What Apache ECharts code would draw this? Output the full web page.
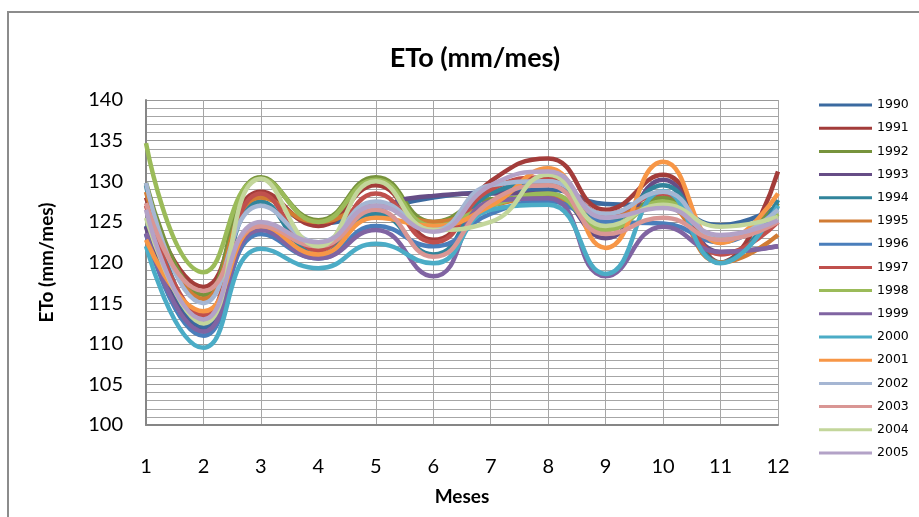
<!DOCTYPE html>
<html>
<head>
<meta charset="utf-8">
<script src="https://cdn.jsdelivr.net/npm/echarts@6/dist/echarts.min.js"></script>
<style>
  html, body { margin: 0; padding: 0; background: #ffffff; }
  #chart { width: 919px; height: 517px; }
</style>
</head>
<body>
<div id="chart"></div>
<script>
// Months on the category axis
const months = ['1', '2', '3', '4', '5', '6', '7', '8', '9', '10', '11', '12'];

// Monthly reference evapotranspiration (mm/mes), one array per year
const y1990 = [124.5, 112.0, 128.5, 124.8, 126.5, 128.0, 128.7, 129.0, 127.2, 127.0, 124.6, 127.0];
const y1991 = [128.0, 117.0, 128.7, 124.5, 129.5, 122.8, 130.0, 132.8, 126.5, 130.8, 120.0, 131.2];
const y1992 = [129.8, 116.0, 130.5, 125.2, 130.5, 125.0, 127.8, 128.0, 124.5, 128.0, 122.5, 127.3];
const y1993 = [124.4, 111.5, 124.5, 122.0, 126.5, 128.2, 128.5, 128.5, 123.0, 130.2, 121.3, 122.0];
const y1994 = [129.5, 113.0, 127.5, 121.0, 126.0, 121.0, 128.5, 129.8, 125.0, 129.5, 120.0, 127.7];
const y1995 = [128.7, 115.5, 128.0, 125.0, 127.0, 125.0, 127.0, 128.0, 126.0, 127.0, 120.0, 123.4];
const y1996 = [123.5, 111.0, 123.5, 120.5, 124.5, 122.0, 126.0, 127.5, 125.0, 124.8, 122.5, 126.9];
const y1997 = [127.0, 113.5, 128.5, 121.5, 128.5, 122.5, 129.0, 130.5, 126.0, 128.5, 121.0, 125.0];
const y1998 = [134.7, 118.8, 130.3, 125.0, 130.2, 124.5, 127.0, 128.5, 124.0, 127.5, 123.0, 126.0];
const y1999 = [123.6, 111.5, 124.0, 120.5, 124.0, 118.3, 127.5, 127.9, 118.3, 124.4, 121.3, 122.0];
const y2000 = [122.0, 109.5, 121.7, 119.3, 122.3, 119.9, 126.5, 127.1, 118.6, 128.8, 119.9, 127.0];
const y2001 = [122.8, 114.0, 124.5, 121.0, 125.5, 124.5, 127.0, 131.6, 121.8, 132.4, 122.4, 128.5];
const y2002 = [129.8, 115.0, 127.0, 122.5, 127.5, 124.0, 129.5, 130.0, 126.0, 128.7, 122.8, 126.5];
const y2003 = [127.3, 116.5, 124.5, 122.0, 126.5, 120.7, 127.5, 129.5, 123.5, 125.5, 122.8, 125.0];
const y2004 = [125.5, 112.5, 130.3, 122.0, 130.0, 124.0, 125.0, 130.8, 124.5, 127.1, 124.4, 125.6];
const y2005 = [126.5, 113.0, 125.0, 122.5, 127.0, 123.8, 129.5, 131.2, 125.5, 126.7, 123.4, 125.2];

const years = ['1990', '1991', '1992', '1993', '1994', '1995', '1996', '1997',
               '1998', '1999', '2000', '2001', '2002', '2003', '2004', '2005'];
const values = [y1990, y1991, y1992, y1993, y1994, y1995, y1996, y1997,
                y1998, y1999, y2000, y2001, y2002, y2003, y2004, y2005];

// Office-style palette: dark shades, base shades, light tints
const colors = ['#3b6aa0', '#a33c3a', '#77933c', '#664d86', '#31849b', '#d17c34',
                '#4a7ebb', '#c0504d', '#9bbb59', '#8064a2', '#4bacc6', '#f79646',
                '#a5b6d3', '#d99694', '#c3d69b', '#b3a2c7'];

const font = 'Lato, Carlito, "Liberation Sans", sans-serif';
const gridColor = '#a6a6a6';

const chart = echarts.init(document.getElementById('chart'), null, { renderer: 'canvas' });

chart.setOption({
  backgroundColor: '#ffffff',
  animation: false,
  color: colors,
  title: {
    text: 'ETo (mm/mes)',
    left: 470,
    top: 40,
    textAlign: 'center',
    textStyle: { fontFamily: font, fontSize: 27, fontWeight: 'bold', color: '#000' }
  },
  graphic: [{
    type: 'rect',
    shape: { x: 8, y: 12, width: 1000, height: 1000 },
    style: { fill: 'none', stroke: '#8c8c8c', lineWidth: 2 },
    silent: true,
    z: -1
  }],
  legend: {
    orient: 'vertical',
    left: 814,
    top: 93,
    icon: 'rect',
    itemWidth: 53,
    itemHeight: 3,
    itemGap: 9.2,
    textStyle: { fontFamily: '"DejaVu Sans", sans-serif', fontSize: 12.5, color: '#000', lineHeight: 14 },
    data: years
  },
  grid: { left: 146, right: 141, top: 100, bottom: 92, containLabel: false },
  xAxis: {
    type: 'category',
    data: months,
    boundaryGap: false,
    name: 'Meses',
    nameLocation: 'middle',
    nameGap: 62,
    nameTextStyle: { fontFamily: font, fontSize: 19, fontWeight: 'bold', color: '#000' },
    axisLine: { show: true, lineStyle: { color: '#868686', width: 2 } },
    axisTick: { show: false },
    axisLabel: { margin: 32, fontFamily: font, fontSize: 20, color: '#000' },
    splitLine: {
      show: true,
      interval: function (index) { return index !== 3; },
      lineStyle: { color: gridColor, width: 1 }
    }
  },
  yAxis: {
    type: 'value',
    min: 100,
    max: 140,
    interval: 5,
    name: 'ETo (mm/mes)',
    nameLocation: 'middle',
    nameGap: 90,
    nameTextStyle: { fontFamily: font, fontSize: 19, fontWeight: 'bold', color: '#000' },
    axisLine: { show: true, lineStyle: { color: '#868686', width: 2 } },
    axisTick: { show: false },
    axisLabel: { margin: 23, fontFamily: font, fontSize: 20, color: '#000' },
    splitLine: { show: true, lineStyle: { color: '#999999', width: 1 } },
    minorTick: { show: false, splitNumber: 5 },
    minorSplitLine: { show: true, lineStyle: { color: gridColor, width: 1 } }
  },
  series: years.map(function (yr, i) {
    return {
      name: yr,
      type: 'line',
      data: values[i],
      smooth: 0.5,
      symbol: 'none',
      lineStyle: { width: 4.5, color: colors[i] },
      itemStyle: { color: colors[i] }
    };
  })
});
</script>
</body>
</html>
